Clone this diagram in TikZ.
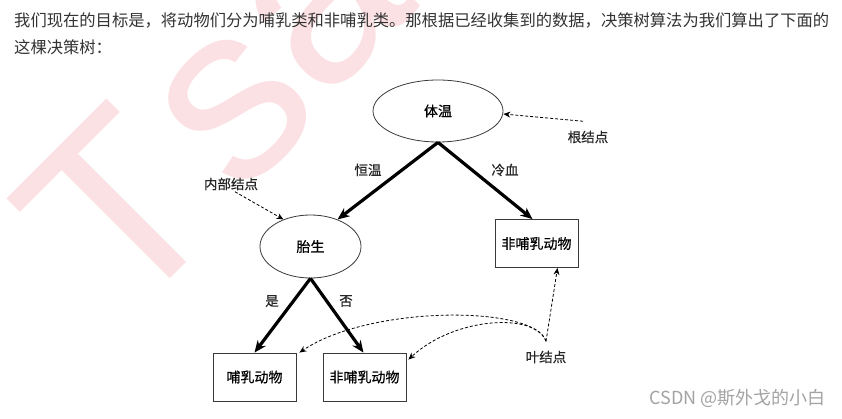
\documentclass[tikz,border=0pt]{standalone}
\usepackage{fontspec}
\setmainfont{Noto Sans CJK SC}
\newfontfamily\wmfont{Liberation Sans}
\newfontfamily\figfont{Noto Sans CJK SC}[FakeBold=0.6]
\usetikzlibrary{arrows.meta,positioning,shapes.geometric}

\definecolor{txtgray}{HTML}{333333}
\definecolor{wmpink}{HTML}{FCE1E4}
\definecolor{linegray}{HTML}{3A3A3A}
\definecolor{markgray}{HTML}{A3A3A3}

\tikzset{
  wmark/.style={font=\wmfont\fontsize{250}{250}\selectfont, text=wmpink,
    rotate=45, anchor=base, inner sep=0pt},
  decision/.style={ellipse, draw=linegray, line width=0.8pt, inner sep=0pt,
    font=\figfont\fontsize{14}{16}\selectfont},
  leaf/.style={rectangle, draw=linegray, line width=0.8pt, minimum width=83pt,
    minimum height=48pt, inner sep=0pt, font=\figfont\fontsize{14}{16}\selectfont},
  branch/.style={line width=3.2pt, -{Stealth[length=12pt,width=10pt]}},
  hint/.style={line width=0.8pt, dash pattern=on 3pt off 2pt,
    -{Stealth[length=7pt,width=6pt]}},
  note/.style={font=\figfont\fontsize{13.5}{15}\selectfont, text=black!85}
}

\begin{document}
\begin{tikzpicture}[x=1pt,y=-1pt]
  \useasboundingbox (0,0) rectangle (842,419);
  \clip (0,0) rectangle (842,419);
  \fill[white] (0,0) rectangle (842,419);
  \node[wmark] (wmT) at (178,271) {T};
  \node[wmark] (wmS) at (284,155) {s};
  \node[wmark] (wmA) at (372,55) {a};

  \node[anchor=west, inner sep=0pt, text=txtgray, font=\fontsize{16.3}{20}\selectfont] (intro1) at (14,20)
    {我们现在的目标是，将动物们分为哺乳类和非哺乳类。那根据已经收集到的数据，决策树算法为我们算出了下面的};
  \node[anchor=west, inner sep=0pt, text=txtgray, font=\fontsize{16.3}{20}\selectfont] (intro2) at (14,47)
    {这棵决策树：};

  \node[decision, minimum width=130pt, minimum height=62pt] (temp) at (438,111) {体温};
  \node[decision, minimum width=101pt, minimum height=63pt] (birth) at (310.5,246.5) {胎生};
  \node[leaf] (nonmamA) at (536.5,243.5) {非哺乳动物};
  \node[leaf] (mam) at (254.5,377) {哺乳动物};
  \node[leaf] (nonmamB) at (364.5,377) {非哺乳动物};

  \draw[branch] (temp.south) -- (birth.45);
  \draw[branch] (temp.south) -- ([xshift=-4pt]nonmamA.north);
  \draw[branch] (birth.south) -- (mam.north);
  \draw[branch] (birth.south) -- ([xshift=-1pt]nonmamB.north);

  \node[note] (warm) at (368,170) {恒温};
  \node[note] (cold) at (505,170) {冷血};
  \node[note] (yes) at (272,301) {是};
  \node[note] (no) at (346,301) {否};

  \node[note] (rootlbl) at (588,137) {根结点};
  \node[note] (innerlbl) at (231,184) {内部结点};
  \node[note] (leaflbl) at (546,357) {叶结点};
  \coordinate (leaftop) at ([yshift=6pt]leaflbl.north);

  \draw[hint] ([xshift=-5pt,yshift=6pt]rootlbl.north) -- ([yshift=-3pt]temp.east);
  \draw[hint] ([xshift=4pt,yshift=2pt]innerlbl.south) -- (birth.135);
  \draw[hint] (leaftop) -- ([xshift=21pt]nonmamA.south);
  \draw[hint] (leaftop) .. controls (535,305) and (370,305) .. ([xshift=3pt]mam.north east);
  \draw[hint] (leaftop) .. controls (535,312) and (454,317) .. ([xshift=2pt,yshift=-7pt]nonmamB.north east);

  \node[anchor=east, inner sep=0pt, text=markgray, font=\fontsize{18}{20}\selectfont] (csdn) at (826,398)
    {CSDN @斯外戈的小白};
\end{tikzpicture}
\end{document}
